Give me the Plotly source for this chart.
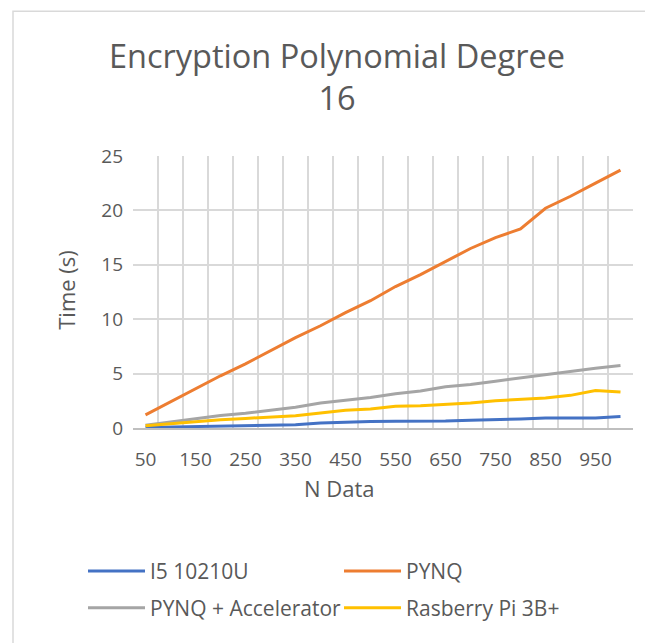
import plotly.graph_objects as go

n_data = [50, 100, 150, 200, 250, 300, 350, 400, 450, 500,
          550, 600, 650, 700, 750, 800, 850, 900, 950, 1000]
tick_labels = [50, 150, 250, 350, 450, 550, 650, 750, 850, 950]

i5_10210u = [0.05, 0.10, 0.15, 0.20, 0.22, 0.25, 0.30, 0.45, 0.55, 0.60,
             0.62, 0.62, 0.65, 0.72, 0.75, 0.82, 0.92, 0.92, 0.93, 1.05]
pynq = [1.2, 2.4, 3.6, 4.8, 5.9, 7.1, 8.3, 9.4, 10.6, 11.7,
        13.0, 14.1, 15.3, 16.5, 17.5, 18.3, 20.2, 21.3, 22.5, 23.7]
pynq_acc = [0.25, 0.55, 0.80, 1.15, 1.35, 1.65, 1.90, 2.30, 2.55, 2.80,
            3.15, 3.40, 3.80, 4.00, 4.30, 4.60, 4.95, 5.20, 5.50, 5.75]
rpi = [0.20, 0.40, 0.58, 0.76, 0.88, 1.00, 1.13, 1.38, 1.62, 1.75,
       2.00, 2.05, 2.17, 2.30, 2.50, 2.60, 2.75, 3.00, 3.45, 3.30]

FONT = "Open Sans"
TXT = "#595959"
LBL = 19

# page offset (browser body margin)
OFF = 8
L, T, W, H = 133 - OFF, 156 - OFF, 500, 272.5
FIG_W, FIG_H = 653, 643
R = FIG_W - L - W
B = FIG_H - T - H


def px(x):
    return (x - OFF - L) / W


def py(y):
    return (T + H - (y - OFF)) / H


fig = go.Figure()
series = [
    ("I5 10210U", i5_10210u, "#4472C4", "legend"),
    ("PYNQ", pynq, "#ED7D31", "legend"),
    ("PYNQ + Accelerator", pynq_acc, "#A5A5A5", "legend2"),
    ("Rasberry Pi 3B+", rpi, "#FFC000", "legend2"),
]
for name, vals, col, lg in series:
    fig.add_trace(go.Scatter(x=n_data, y=vals, name=name, mode="lines",
                             line=dict(color=col, width=3), legend=lg))

leg_common = dict(orientation="h", x=(75 - L) / W, xanchor="left",
                  yanchor="middle", entrywidth=184, entrywidthmode="pixels",
                  font=dict(size=21, color=TXT, family=FONT), itemwidth=57,
                  bgcolor="rgba(0,0,0,0)")

fig.update_layout(
    width=FIG_W, height=FIG_H,
    margin=dict(l=L, r=R, t=T, b=B, autoexpand=False),
    paper_bgcolor="white", plot_bgcolor="white",
    font=dict(family=FONT, color=TXT, size=LBL),
    title=dict(text="Encryption Polynomial Degree<br>16",
               x=(337 - OFF) / FIG_W, xanchor="center", xref="container",
               y=1 - 60 / FIG_H, yanchor="top", yref="container",
               font=dict(size=32.5, color=TXT, family=FONT)),
    xaxis=dict(range=[25, 1025], tickmode="array", tickvals=tick_labels,
               ticktext=[str(v) for v in tick_labels],
               showgrid=False, zeroline=False, ticks="",
               ticklabelstandoff=13,
               minor=dict(tick0=25, dtick=50, showgrid=True,
                          gridcolor="#d9d9d9", gridwidth=2, ticks=""),
               showline=True, linecolor="#bfbfbf", linewidth=2,
               tickfont=dict(size=LBL, color=TXT)),
    yaxis=dict(range=[0, 25], dtick=5, showgrid=True, gridcolor="#d9d9d9",
               gridwidth=2, zeroline=False, ticks="",
               ticklabelstandoff=9, showline=False,
               tickfont=dict(size=LBL, color=TXT)),
    legend=dict(y=py(572), **leg_common),
    legend2=dict(y=py(609), **leg_common),
    showlegend=True,
)

fig.add_annotation(text="Time (s)", textangle=-90, xref="paper", yref="paper",
                   x=px(66), y=py(290),
                   xanchor="center", yanchor="middle", showarrow=False,
                   font=dict(size=22, color=TXT, family=FONT))
fig.add_annotation(text="N Data", xref="paper", yref="paper",
                   x=px(339), y=py(489),
                   xanchor="center", yanchor="middle", showarrow=False,
                   font=dict(size=22, color=TXT, family=FONT))

fig.add_shape(type="rect", xref="paper", yref="paper",
              x0=px(13), x1=2.0, y0=-2.0, y1=py(11),
              line=dict(color="#d9d9d9", width=1.5), layer="below")

fig.write_html("out.html")
